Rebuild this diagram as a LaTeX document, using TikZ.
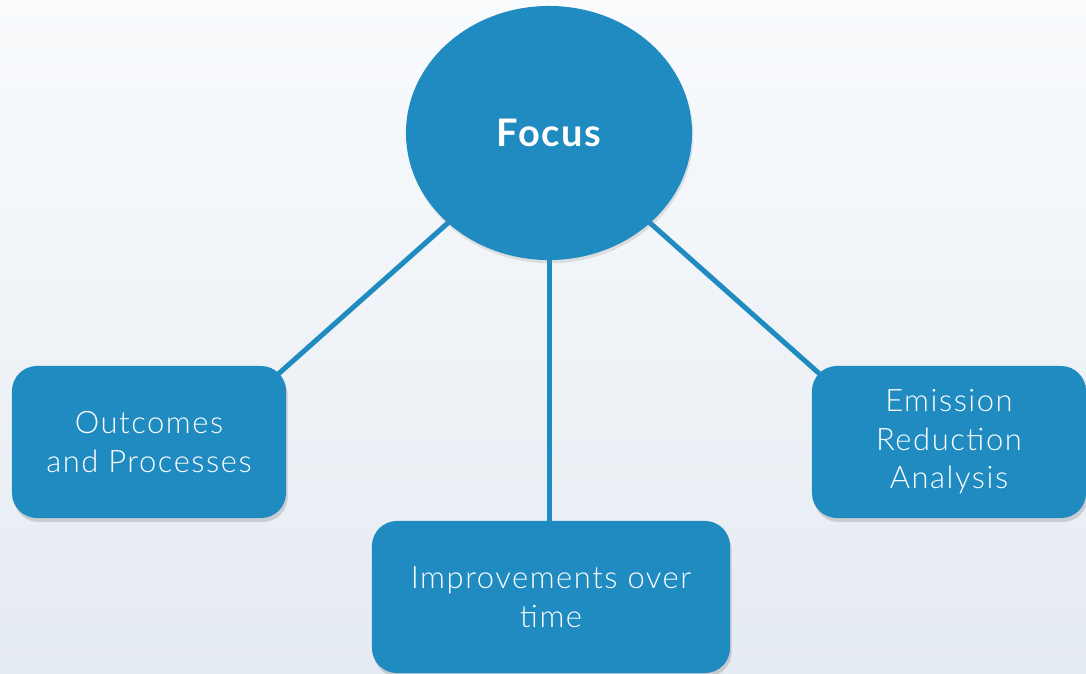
\documentclass[tikz,border=0pt]{standalone}
\usepackage{fontspec}
\setsansfont{Lato}[LetterSpace=4]
\newfontfamily\lightfont{Lato Light}[LetterSpace=5]
\usepackage{tikz}
\usetikzlibrary{positioning,calc,shapes.geometric,shadows,backgrounds}

\definecolor{focusblue}{HTML}{1F8BC0}
\definecolor{bgtop}{HTML}{F9FBFD}
\definecolor{bgbottom}{HTML}{E5EBF2}

\begin{document}
\begin{tikzpicture}[
            x=0.025cm, y=-0.025cm,
            outer sep=0pt,
            % Style cho hình tròn trung tâm
            hub/.style={
                ellipse,
                fill=focusblue,
                minimum width=7.15cm,
                minimum height=6.35cm,
                text=white,
                font=\sffamily\bfseries\fontsize{27}{32}\selectfont,
                drop shadow={opacity=0.2, shadow xshift=0.03cm, shadow yshift=-0.08cm}
            },
            % Style cho các ô chủ đề
            topic/.style={
                rectangle,
                rounded corners=0.625cm,
                fill=focusblue,
                minimum width=6.85cm,
                minimum height=3.8cm,
                text=white,
                align=center,
                font=\lightfont\fontsize{22}{27.5}\selectfont,
                drop shadow={opacity=0.3, shadow xshift=0.04cm, shadow yshift=-0.1cm}
            },
            % Style cho đường nối
            link/.style={
                draw=focusblue,
                line width=0.125cm
            }
        ]
            \useasboundingbox (0,0) rectangle (1086,673);

            % HÌNH TRÒN "Focus"
            \node[hub] (focus) at (549,133) {Focus};

            % CÁC Ô CHỦ ĐỀ
            \node[topic] (outcomes) at (149,442) {Outcomes\\and Processes};
            \node[topic] (emission) at (949,442) {Emission\\Reduction\\Analysis};
            \node[topic, minimum width=8.95cm] (improve) at (551,597) {Improvements over\\time};

            % NỀN VÀ ĐƯỜNG NỐI (nằm dưới các ô)
            \begin{scope}[on background layer]
                \shade[top color=bgtop, bottom color=bgbottom] (0,0) rectangle (1086,673);
                \draw[link] (focus.center) -- ($(outcomes.north east)+(-10,10)$);
                \draw[link] (focus.center) -- ($(emission.north west)+(10,10)$);
                \draw[link] (focus.center) -- (focus.center |- improve.north);
            \end{scope}

        \end{tikzpicture}
\end{document}
